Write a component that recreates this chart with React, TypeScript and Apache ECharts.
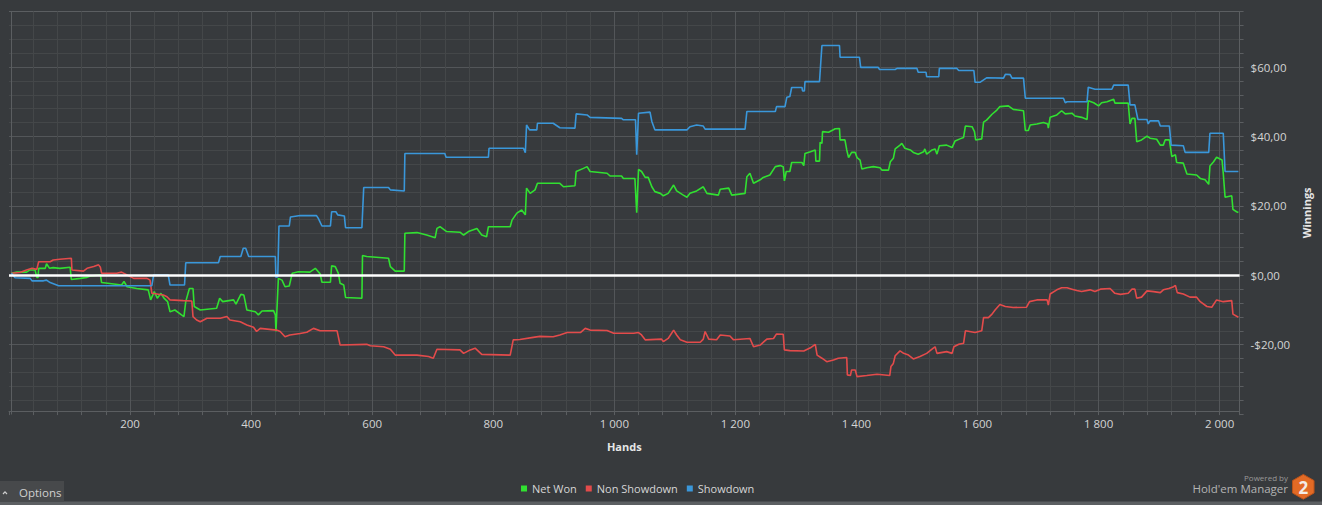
import React, { useEffect, useRef } from 'react';
import * as echarts from 'echarts';

// ---- data (hands, cumulative winnings in $) ----
const netWonHands = [4, 13, 29, 34, 43, 46, 48, 49, 60, 62, 67, 73, 84, 101, 103, 118, 129, 134, 151, 153, 173, 186, 190, 195, 211, 230, 234, 240, 245, 251, 256, 262, 266, 274, 285, 289, 292, 298, 304, 306, 316, 343, 348, 353, 371, 375, 383, 388, 393, 407, 412, 418, 437, 440, 441, 445, 451, 456, 463, 468, 478,
  497, 506, 514, 517, 531, 533, 539, 544, 547, 553, 556, 583, 584, 591, 627, 630, 638, 653, 654, 674, 690, 704, 707, 712, 723, 745, 751, 759, 773, 781, 789, 792, 828, 831, 839, 847, 853, 855, 861, 869, 873,
  910, 916, 935, 937, 949, 955, 960, 988, 993, 1012, 1015, 1034, 1037, 1040, 1045, 1051, 1056, 1062, 1067, 1076, 1081, 1089, 1098, 1103, 1114, 1120, 1125, 1136, 1147, 1153, 1172, 1175, 1189, 1194, 1216, 1219, 1224, 1230, 1241, 1246, 1257, 1266, 1274, 1279, 1281, 1284, 1290,
  1293, 1310, 1313, 1315, 1324, 1332, 1333, 1339, 1340, 1343, 1344, 1354, 1365, 1372, 1373, 1381, 1384, 1387, 1392, 1398, 1401, 1406, 1409, 1417, 1428, 1439, 1442, 1453, 1456, 1461, 1464, 1472, 1475, 1480, 1489, 1494, 1502, 1511, 1513, 1516, 1525, 1530, 1533, 1537, 1549, 1558, 1563, 1571, 1577, 1580, 1591, 1595, 1597, 1607, 1610, 1615, 1624, 1632, 1637, 1651,
  1659, 1676, 1679, 1684, 1687, 1698, 1709, 1716, 1717, 1720, 1731, 1739, 1745, 1756, 1761, 1772, 1781, 1783, 1792, 1800, 1805, 1814, 1825, 1827, 1849, 1852, 1855, 1860, 1863, 1871, 1880, 1885, 1896, 1902, 1907, 1910, 1917, 1921, 1927, 1929, 1940, 1946, 1962, 1968, 1976, 1982, 1984, 1990, 1995, 2004, 2006, 2009, 2020, 2022, 2028, 2031];
const netWonValues = [0.6, 0.9, 0.9, 1.5, 1.5, -0.6, -0.6, 2.0, 2.0, 3.3, 2.0, 2.2, 2.0, 2.3, -1.2, -0.9, -0.6, -0.2, 0.1, -2.1, -2.5, -2.8, -1.8, -3.3, -3.8, -4.2, -7.1, -4.7, -6.6, -5.2, -6.6, -7.6, -10.5, -10.0, -11.4, -11.9, -7.6, -3.8, -3.8, -9.0, -10.0, -9.5, -6.6, -7.6, -7.1, -8.3, -5.5, -5.7, -10.0, -10.5, -11.4, -10.3, -10.2, -11.4, -16.2, -0.9, -1.4, -3.3, -3.1, 0.6, 1.0,
  0.9, 2.0, 0.4, -2.0, -2.0, 2.7, 2.5, 0.6, -2.3, -2.8, -6.4, -6.6, 5.7, 5.4, 4.9, 2.5, 1.2, 1.2, 12.1, 12.3, 11.6, 10.8, 13.5, 14.0, 12.6, 12.4, 11.6, 12.6, 13.5, 11.6, 11.1, 14.0, 14.0, 15.9, 17.9, 18.8, 17.4, 25.1, 23.6, 24.6, 26.5,
  26.5, 25.5, 25.8, 29.9, 30.8, 31.3, 29.9, 29.4, 28.6, 28.6, 27.9, 27.9, 18.0, 30.5, 29.9, 28.2, 28.2, 25.5, 24.1, 23.6, 22.9, 23.6, 26.0, 24.3, 23.1, 22.5, 23.6, 24.3, 25.5, 23.6, 23.1, 24.8, 25.1, 23.1, 23.6, 28.4, 29.4, 26.5, 27.5, 28.2, 28.9, 31.3, 31.6, 31.3, 27.2, 29.9, 29.9,
  32.5, 32.5, 31.6, 35.1, 35.6, 36.1, 32.9, 32.9, 38.3, 38.0, 41.4, 41.2, 42.2, 42.3, 39.0, 39.0, 36.1, 33.9, 35.4, 35.4, 33.9, 33.2, 30.6, 31.0, 31.3, 31.0, 30.3, 30.3, 32.7, 33.7, 36.4, 37.5, 38.0, 36.6, 36.1, 35.4, 34.9, 35.6, 36.4, 34.9, 36.1, 36.4, 34.9, 37.3, 37.5, 36.8, 38.7, 39.3, 39.7, 43.0, 42.8, 41.4, 39.0, 39.3, 44.1, 44.7, 46.4, 47.6, 48.6, 48.8,
  47.8, 47.4, 41.7, 41.7, 43.3, 43.6, 44.0, 43.6, 42.4, 45.5, 46.2, 47.4, 46.5, 46.7, 45.9, 45.5, 44.9, 50.3, 49.7, 48.8, 49.7, 50.0, 50.7, 49.6, 49.6, 43.6, 45.2, 45.2, 38.5, 39.0, 40.1, 39.5, 39.2, 37.5, 37.5, 39.0, 39.0, 34.2, 34.7, 32.5, 32.3, 29.2, 28.9, 27.9, 27.5, 26.2, 31.5, 32.7, 34.0, 33.2, 29.4, 22.5, 22.9, 19.0, 18.3, 18.1];

const nonShowdownHands = [4, 18, 29, 38, 46, 49, 68, 73, 84, 103, 104, 123, 129, 140, 148, 151, 153, 178, 186, 195, 206, 228, 233, 236, 255, 261, 266, 288, 302, 304, 310, 316, 327, 349, 360, 365, 382, 393, 404, 409, 415, 442, 448, 456, 464, 481, 492, 503, 514, 542, 547, 591, 597, 619, 630, 638, 674, 693, 701, 707, 745, 751, 762, 770, 781, 828, 833, 844, 866, 877,
  899, 910, 922, 944, 952, 960, 988, 999, 1032, 1040, 1045, 1051, 1078, 1081, 1089, 1098, 1103, 1109, 1120, 1142, 1147, 1150, 1156, 1169, 1175, 1191, 1197, 1224, 1230, 1241, 1252, 1263, 1268, 1279, 1281,
  1290, 1313, 1324, 1332, 1335, 1343, 1351, 1362, 1370, 1384, 1385, 1390, 1392, 1398, 1401, 1417, 1434, 1455, 1457, 1461, 1464, 1472, 1478, 1486, 1494, 1505, 1516, 1527, 1530, 1533, 1549, 1558, 1561, 1569, 1577, 1580, 1596, 1607, 1610, 1618, 1624, 1629, 1637, 1646, 1659,
  1681, 1686, 1698, 1715, 1717, 1720, 1731, 1739, 1748, 1756, 1764, 1772, 1786, 1794, 1803, 1819, 1827, 1836, 1849, 1855, 1860, 1863, 1871, 1880, 1891, 1902, 1907, 1916, 1924, 1927, 1930, 1940, 1951, 1962, 1968, 1979, 1987, 1995, 2006, 2020, 2022, 2031];
const nonShowdownValues = [0.6, 0.8, 1.5, 2.0, 1.7, 3.9, 3.9, 4.4, 4.6, 4.9, 1.5, 1.2, 2.0, 2.5, 3.0, 2.3, 0.6, 0.6, 0.9, 0.1, -0.9, -0.9, -1.4, -5.2, -5.7, -6.2, -7.1, -7.3, -7.4, -11.9, -12.9, -13.4, -12.4, -12.4, -11.9, -12.9, -13.4, -14.3, -15.0, -16.2, -15.3, -15.8, -16.2, -17.7, -17.2, -16.8, -16.4, -15.3, -16.0, -16.0, -20.1, -19.9, -20.3, -20.6, -21.3, -23.0, -23.0, -23.4, -23.9, -21.3, -21.5, -22.5, -21.5, -21.0, -22.8, -23.0, -18.6, -18.5, -17.9, -17.6,
  -17.7, -17.2, -16.5, -16.5, -15.3, -15.8, -15.9, -16.7, -16.7, -16.5, -17.2, -18.6, -18.4, -19.1, -18.2, -15.8, -17.2, -18.6, -19.3, -19.3, -18.4, -16.2, -18.4, -18.6, -17.2, -17.5, -18.6, -18.2, -20.6, -20.1, -18.4, -18.2, -16.9, -17.0, -21.5,
  -21.7, -21.8, -20.9, -19.9, -23.0, -23.9, -24.9, -24.4, -23.9, -23.7, -28.7, -28.9, -27.3, -27.3, -29.2, -28.9, -28.5, -28.9, -26.3, -25.4, -23.2, -21.8, -22.5, -23.0, -24.1, -23.4, -22.5, -21.0, -20.6, -22.5, -22.0, -22.5, -20.6, -19.9, -19.6, -16.0, -16.5, -16.0, -12.2, -12.2, -11.2, -10.0, -8.4, -9.0, -9.3,
  -9.2, -7.6, -7.1, -7.1, -8.6, -5.4, -4.2, -3.6, -3.6, -4.0, -4.4, -4.7, -4.2, -4.7, -4.0, -3.8, -5.2, -5.5, -5.2, -4.0, -4.0, -6.6, -6.3, -4.5, -4.7, -5.0, -4.2, -3.8, -3.3, -2.9, -5.0, -5.4, -6.3, -6.3, -7.6, -9.0, -9.2, -7.1, -7.6, -7.3, -11.2, -12.1];

const showdownHands = [4, 10, 35, 38, 57, 62, 68, 82, 236, 239, 263, 266, 290, 292, 346, 349, 383, 387, 391, 396, 440, 441, 444, 446, 463, 465,
  481, 508, 511, 517, 531, 533, 540, 543, 554, 556, 583, 586, 627, 630, 653, 654, 720, 722, 792, 793, 850, 853, 855, 860, 872, 873,
  899, 910, 935, 937, 955, 960, 1012, 1015, 1035, 1037, 1040, 1059, 1062, 1067, 1120, 1125, 1136, 1147, 1150, 1216, 1219, 1266, 1268, 1282, 1285, 1290,
  1293, 1310, 1311, 1314, 1315, 1339, 1341, 1343, 1372, 1373, 1405, 1407, 1436, 1438, 1464, 1467, 1500, 1502, 1515, 1516, 1536, 1537, 1566, 1569, 1594, 1596, 1604, 1615, 1643, 1646, 1654, 1657,
  1676, 1679, 1742, 1745, 1748, 1781, 1783, 1794, 1822, 1825, 1849, 1852, 1860, 1865, 1880, 1882, 1885, 1899, 1902, 1917, 1920, 1940, 1943, 1982, 1984, 2006, 2009, 2031];
const showdownValues = [0.6, -0.7, -0.9, -1.6, -1.6, -1.4, -2.1, -3.0, -3.0, 0.1, 0.1, -2.8, -2.8, 3.6, 3.6, 5.4, 5.4, 7.8, 7.8, 5.4, 5.4, -0.6, -0.4, 14.2, 14.2, 16.8,
  17.2, 17.2, 16.4, 14.2, 14.2, 18.3, 18.3, 17.4, 17.1, 13.7, 13.7, 25.3, 25.3, 24.6, 24.3, 35.1, 35.1, 34.0, 34.0, 36.6, 36.6, 35.3, 43.3, 41.9, 41.9, 43.8,
  43.8, 42.5, 42.4, 46.5, 46.2, 45.5, 45.2, 44.8, 44.8, 34.7, 46.7, 47.0, 44.3, 41.9, 41.9, 42.8, 43.3, 43.0, 42.1, 42.1, 47.2, 47.2, 48.6, 48.6, 51.3, 51.5,
  54.1, 54.1, 53.1, 53.1, 55.8, 55.8, 61.1, 66.2, 66.2, 62.8, 62.8, 59.9, 59.9, 59.3, 59.3, 59.6, 59.6, 58.5, 58.5, 57.2, 57.2, 59.6, 59.6, 59.0, 59.0, 55.6, 55.6, 56.9, 56.8, 57.9, 57.8, 56.8,
  56.8, 51.0, 51.0, 49.7, 50.0, 50.0, 54.2, 53.6, 53.6, 54.8, 54.8, 49.1, 49.1, 44.9, 44.9, 43.6, 44.5, 44.5, 43.0, 43.0, 37.5, 37.3, 35.4, 35.4, 40.9, 40.9, 29.9, 29.9];

const seriesNames = ['Net Won', 'Non Showdown', 'Showdown'];
const seriesColors = ['#31e031', '#e34b4b', '#3a97da'];
const yTickValues = [-20, 0, 20, 40, 60];
const xTickValues = [200, 400, 600, 800, 1000, 1200, 1400, 1600, 1800, 2000];

const BG = '#373a3d';
const MINOR = '#444749';
const MAJOR = '#535659';
const BORDER = '#5b5e61';
const FONT = '"Open Sans", "Noto Sans", sans-serif';

const pairs = (h: number[], v: number[]) => h.map((x, i) => [x, v[i]]);

const fmtMoney = (v: number) =>
  (v < 0 ? '-' : '') + '$' + Math.abs(v).toFixed(2).replace('.', ',');
const fmtHands = (v: number) =>
  v >= 1000 ? Math.floor(v / 1000) + ' ' + String(v % 1000).padStart(3, '0') : String(v);

// split line colours per tick (x ticks every 40 hands, y ticks every $4)
const xSplitColors: string[] = [];
for (let i = 0; i < 52; i++) {
  xSplitColors.push(i === 0 ? 'rgba(0,0,0,0)' : i === 51 ? BORDER : i % 5 === 0 ? MAJOR : MINOR);
}
const ySplitColors: string[] = [];
for (let i = 0; i < 30; i++) {
  const v = -40 + 4 * i;
  ySplitColors.push(i === 0 ? 'rgba(0,0,0,0)' : i === 29 ? BORDER : v % 20 === 0 ? MAJOR : MINOR);
}

export default function App() {
  const ref = useRef<HTMLDivElement>(null);
  useEffect(() => {
    document.body.style.margin = '0';
    document.body.style.background = BG;
    const chart = echarts.init(ref.current as HTMLDivElement, undefined, { renderer: 'svg' });
    const hexCx = 1303.3, hexCy = 486.8, hexR = 12.4, hexW = 10.74;
    const lineSeries = (idx: number, h: number[], v: number[], extra: any = {}) => ({
      name: seriesNames[idx],
      type: 'line',
      data: pairs(h, v),
      color: seriesColors[idx],
      showSymbol: false,
      symbol: 'none',
      clip: true,
      lineStyle: { width: 1.6, color: seriesColors[idx] },
      itemStyle: { color: seriesColors[idx] },
      emphasis: { disabled: true },
      ...extra,
    });
    chart.setOption({
      animation: false,
      backgroundColor: BG,
      textStyle: { fontFamily: FONT },
      grid: { left: 9, top: 11.5, width: 1230.6, height: 402.6, containLabel: false },
      legend: {
        data: seriesNames,
        left: 516,
        top: 478,
        icon: 'rect',
        itemWidth: 6,
        itemHeight: 6,
        itemGap: 9,
        selectedMode: false,
        textStyle: { color: '#d6d6d6', fontSize: 11, fontFamily: FONT },
      },
      xAxis: {
        type: 'value',
        min: 0,
        max: 2033,
        interval: 40,
        position: 'bottom',
        offset: -3,
        name: 'Hands',
        nameLocation: 'middle',
        nameGap: 30,
        nameTextStyle: { color: '#e6e6e6', fontWeight: 'bold', fontSize: 11, fontFamily: FONT },
        axisLine: { show: true, onZero: false, lineStyle: { color: BORDER, width: 1 } },
        axisTick: { show: true, length: 4, lineStyle: { color: BORDER } },
        axisLabel: {
          color: '#d4d4d4',
          fontSize: 11.5,
          fontFamily: FONT,
          margin: 6,
          formatter: (v: number) => (xTickValues.indexOf(v) >= 0 ? fmtHands(v) : ''),
        },
        splitLine: { show: true, lineStyle: { color: xSplitColors, width: 1 } },
      },
      yAxis: [
        {
          type: 'value',
          min: -40,
          max: 76,
          interval: 4,
          position: 'right',
          name: 'Winnings',
          nameLocation: 'middle',
          nameRotate: 90,
          nameGap: 51,
          nameTextStyle: { color: '#e6e6e6', fontWeight: 'bold', fontSize: 11, fontFamily: FONT },
          axisLine: { show: true, onZero: false, lineStyle: { color: BORDER, width: 1 } },
          axisTick: { show: true, length: 4, lineStyle: { color: BORDER } },
          axisLabel: {
            color: '#d4d4d4',
            fontSize: 11.5,
            fontFamily: FONT,
            margin: 11,
            formatter: (v: number) => (yTickValues.indexOf(v) >= 0 ? fmtMoney(v) : ''),
          },
          splitLine: { show: true, lineStyle: { color: ySplitColors, width: 1 } },
        },
        {
          type: 'value',
          min: -40,
          max: 76,
          interval: 4,
          position: 'left',
          offset: -2,
          axisLine: { show: true, onZero: false, lineStyle: { color: BORDER, width: 1 } },
          axisTick: { show: false },
          axisLabel: { show: false },
          splitLine: { show: false },
        },
      ],
      series: [
        lineSeries(0, netWonHands, netWonValues),
        lineSeries(1, nonShowdownHands, nonShowdownValues),
        lineSeries(2, showdownHands, showdownValues, {
          markLine: {
            silent: true,
            symbol: ['none', 'none'],
            label: { show: false },
            lineStyle: { color: '#ffffff', width: 2.5, type: 'solid' },
            emphasis: { disabled: true },
            data: [{ yAxis: 0 }],
          },
        }),
      ],
      graphic: [
        { type: 'rect', shape: { x: 0, y: 501.5, width: 1322, height: 4 }, style: { fill: '#5c5f62' }, silent: true },
        { type: 'rect', shape: { x: 0, y: 481, width: 64, height: 20.5 }, style: { fill: '#47494b' }, silent: true },
        {
          type: 'polyline',
          shape: { points: [[3, 494], [5, 491.8], [7, 494]] },
          style: { stroke: '#cfcfcf', lineWidth: 1.2, fill: 'none' },
          silent: true,
        },
        {
          type: 'text', x: 19, y: 492,
          style: { text: 'Options', fill: '#d0d0d0', font: '11.5px ' + FONT, align: 'left', verticalAlign: 'middle' },
          silent: true,
        },
        {
          type: 'text', x: 1288, y: 477.5,
          style: { text: 'Powered by', fill: '#999999', font: '8px ' + FONT, align: 'right', verticalAlign: 'middle' },
          silent: true,
        },
        {
          type: 'text', x: 1288, y: 488.5,
          style: { text: "Hold'em Manager", fill: '#b4b4b4', font: '11.5px ' + FONT, align: 'right', verticalAlign: 'middle' },
          silent: true,
        },
        {
          type: 'polygon',
          shape: {
            points: [
              [hexCx, hexCy - hexR], [hexCx + hexW, hexCy - hexR / 2], [hexCx + hexW, hexCy + hexR / 2],
              [hexCx, hexCy + hexR], [hexCx - hexW, hexCy + hexR / 2], [hexCx - hexW, hexCy - hexR / 2],
            ],
          },
          style: { fill: '#e26a25', stroke: '#b9521a', lineWidth: 1 },
          silent: true,
        },
        {
          type: 'text', x: hexCx, y: hexCy + 0.5,
          style: { text: '2', fill: '#f3ece6', font: 'bold 17px ' + FONT, align: 'center', verticalAlign: 'middle' },
          silent: true,
        },
      ],
    });
    return () => chart.dispose();
  }, []);
  return (
    <div
      ref={ref}
      style={{ position: 'absolute', left: 0, top: 0, width: 1322, height: 505, background: BG }}
    />
  );
}
